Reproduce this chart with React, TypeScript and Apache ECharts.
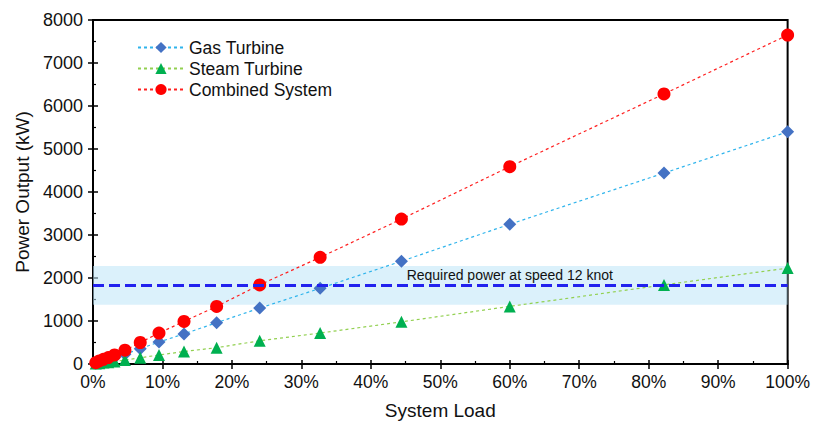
import React, { useEffect, useRef } from "react";
import * as echarts from "echarts";

const loadPct = [0.4, 0.9, 1.5, 2.2, 3.1, 4.6, 6.8, 9.5, 13.1, 17.8, 24, 32.7, 44.4, 60, 82.2, 100];
const gasTurbine = [21, 50, 78, 107, 150, 228, 355, 510, 700, 960, 1300, 1760, 2390, 3250, 4440, 5400];
const steamTurbine = [9, 20, 32, 43, 60, 92, 145, 210, 290, 380, 540, 720, 980, 1340, 1840, 2230];
const combinedSystem = [30, 70, 110, 150, 210, 320, 500, 720, 990, 1340, 1840, 2480, 3370, 4590, 6280, 7650];
const requiredPower = 1830;
const bandRange = [1380, 2280];
const requiredLabel = "Required power at speed 12 knot";
const labelAt = [60, 2060];

const FONT = "'Liberation Sans', Arial, sans-serif";

export default function App() {
  const ref = useRef<HTMLDivElement>(null);
  useEffect(() => {
    if (!ref.current) return;
    const chart = echarts.init(ref.current, null, { renderer: "svg" });
    const pairs = (ys: number[]) => loadPct.map((x, i) => [x, ys[i]]);
    const axisBase = {
      type: "value" as const,
      axisLine: { show: true, lineStyle: { color: "#000", width: 2 } },
      splitLine: { show: false },
    };
    chart.setOption({
      animation: false,
      backgroundColor: "#fff",
      textStyle: { fontFamily: FONT },
      grid: {
        left: 93, top: 20, width: 696, height: 346,
        show: true, borderColor: "#000", borderWidth: 2, backgroundColor: "transparent",
      },
      legend: {
        left: 132, top: 32, orient: "vertical",
        itemWidth: 46, itemHeight: 14, itemGap: 0,
        textStyle: { fontFamily: FONT, fontSize: 17.5, color: "#111", lineHeight: 21 },
        data: ["Gas Turbine", "Steam Turbine", "Combined System"],
      },
      xAxis: [
        {
          ...axisBase, min: 0, max: 100, interval: 10,
          name: "System Load", nameLocation: "middle", nameGap: 37,
          nameTextStyle: { fontFamily: FONT, fontSize: 19, color: "#111" },
          axisTick: { show: true, inside: false, length: 5, lineStyle: { color: "#000", width: 1.5 } },
          axisLabel: { formatter: "{value}%", fontFamily: FONT, fontSize: 17.5, color: "#111", margin: 9 },
        },
        {
          ...axisBase, min: 0, max: 100, interval: 10, position: "bottom",
          axisTick: { show: true, inside: true, length: 4, lineStyle: { color: "#000", width: 1.5 } },
          minorTick: { show: true, splitNumber: 2, length: 3, lineStyle: { color: "#000", width: 1.2 } },
          axisLabel: { show: false },
        },
      ],
      yAxis: [
        {
          ...axisBase, min: 0, max: 8000, interval: 1000,
          name: "Power Output (kW)", nameLocation: "middle", nameGap: 53,
          nameTextStyle: { fontFamily: FONT, fontSize: 19, color: "#111" },
          axisTick: { show: true, inside: false, length: 5, lineStyle: { color: "#000", width: 1.5 } },
          axisLabel: { formatter: (v: number) => String(v), fontFamily: FONT, fontSize: 18, color: "#111", margin: 10 },
        },
        {
          ...axisBase, min: 0, max: 8000, interval: 1000, position: "left",
          axisTick: { show: true, inside: true, length: 5, lineStyle: { color: "#000", width: 1.5 } },
          minorTick: { show: true, splitNumber: 2, length: 3, lineStyle: { color: "#000", width: 1.2 } },
          axisLabel: { show: false },
        },
      ],
      series: [
        {
          name: "Band", type: "line", data: [], silent: true,
          markArea: {
            silent: true,
            itemStyle: { color: "rgba(190,230,248,0.55)" },
            data: [[{ yAxis: bandRange[0] }, { yAxis: bandRange[1] }]],
          },
          markLine: {
            silent: true, symbol: "none",
            lineStyle: { color: "#2222EE", width: 3, type: [11, 5] },
            label: { show: false },
            data: [{ yAxis: requiredPower }],
          },
          markPoint: {
            silent: true, symbol: "circle", symbolSize: 0,
            label: {
              show: true, position: "inside", formatter: requiredLabel,
              fontFamily: FONT, fontSize: 14, color: "#111",
            },
            data: [{ coord: labelAt }],
          },
          z: 1,
        },
        {
          name: "Gas Turbine", type: "line", data: pairs(gasTurbine),
          symbol: "diamond", symbolSize: 13,
          lineStyle: { color: "#2FB4EC", width: 1.2, type: [3, 3] },
          itemStyle: { color: "#4472C4" },
          z: 3,
        },
        {
          name: "Steam Turbine", type: "line", data: pairs(steamTurbine),
          symbol: "triangle", symbolSize: 12,
          lineStyle: { color: "#92D050", width: 1.2, type: [3, 3] },
          itemStyle: { color: "#00B050" },
          z: 3,
        },
        {
          name: "Combined System", type: "line", data: pairs(combinedSystem),
          symbol: "circle", symbolSize: 13,
          lineStyle: { color: "#FF2020", width: 1.2, type: [3, 3] },
          itemStyle: { color: "#FF0000" },
          z: 3,
        },
      ],
    });
    return () => chart.dispose();
  }, []);
  return <div ref={ref} style={{ position: "absolute", left: 0, top: 0, width: 813, height: 425 }} />;
}
